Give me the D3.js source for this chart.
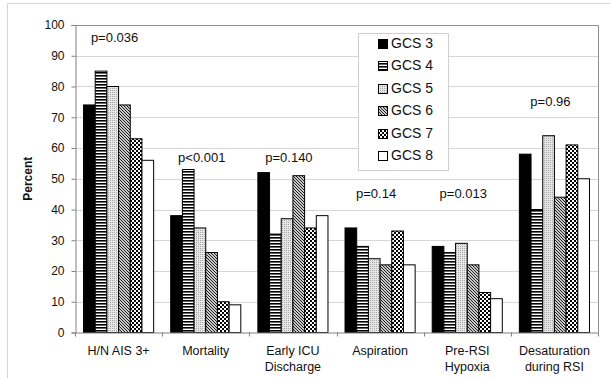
<!DOCTYPE html>
<html>
<head>
<meta charset="utf-8">
<script src="https://cdn.jsdelivr.net/npm/d3@7"></script>
<style>
  body { margin: 0; background: #fff; }
  text { font-family: "Liberation Sans", Arial, sans-serif; fill: #111; }
</style>
</head>
<body>
<div id="plot"></div>
<script>
// data
var categories = [["H/N AIS 3+"], ["Mortality"], ["Early ICU", "Discharge"], ["Aspiration"], ["Pre-RSI", "Hypoxia"], ["Desaturation", "during RSI"]];
var seriesNames = ["GCS 3", "GCS 4", "GCS 5", "GCS 6", "GCS 7", "GCS 8"];
var gcs3 = [74, 38, 52, 34, 28, 58];
var gcs4 = [85, 53, 32, 28, 26, 40];
var gcs5 = [80, 34, 37, 24, 29, 64];
var gcs6 = [74, 26, 51, 22, 22, 44];
var gcs7 = [63, 10, 34, 33, 13, 61];
var gcs8 = [56, 9, 38, 22, 11, 50];
var pLabels = ["p=0.036", "p<0.001", "p=0.140", "p=0.14", "p=0.013", "p=0.96"];
var pLevels = [94.5, 55.3, 55.3, 43.8, 43.8, 73.8];
var yTicks = [0, 10, 20, 30, 40, 50, 60, 70, 80, 90, 100];

var seriesValues = [gcs3, gcs4, gcs5, gcs6, gcs7, gcs8];
var fills = ["#000", "url(#hstripe)", "url(#dots)", "url(#diag)", "url(#checker)", "#fff"];

var width = 610,
  height = 378;
var plotLeft = 75, plotRight = 598, plotTop = 25, plotBottom = 332.5;

var svg = d3.select("#plot").append("svg")
  .attr("width", width)
  .attr("height", height);

// fill patterns
var defs = svg.append("defs");
var p = defs.append("pattern").attr("id", "hstripe").attr("patternUnits", "userSpaceOnUse")
  .attr("width", 4).attr("height", 3);
p.append("rect").attr("width", 4).attr("height", 3).attr("fill", "#fff");
p.append("rect").attr("width", 4).attr("height", 1.6).attr("fill", "#000");

p = defs.append("pattern").attr("id", "dots").attr("patternUnits", "userSpaceOnUse")
  .attr("width", 2).attr("height", 2);
p.append("rect").attr("width", 2).attr("height", 2).attr("fill", "#e6e6e6");
p.append("rect").attr("width", 1).attr("height", 1).attr("fill", "#a8a8a8");

p = defs.append("pattern").attr("id", "diag").attr("patternUnits", "userSpaceOnUse")
  .attr("width", 3).attr("height", 3);
p.append("rect").attr("width", 3).attr("height", 3).attr("fill", "#c8c8c8");
p.append("path").attr("d", "M-1,-1 L4,4 M-1,2 L1,4 M2,-1 L4,1")
  .attr("stroke", "#222").attr("stroke-width", 1);

p = defs.append("pattern").attr("id", "checker").attr("patternUnits", "userSpaceOnUse")
  .attr("width", 4).attr("height", 4);
p.append("rect").attr("width", 4).attr("height", 4).attr("fill", "#000");
p.append("rect").attr("width", 2).attr("height", 2).attr("fill", "#fff");
p.append("rect").attr("x", 2).attr("y", 2).attr("width", 2).attr("height", 2).attr("fill", "#fff");

// outer frame
svg.append("path")
  .attr("d", "M7.5," + height + " L7.5,3.5 L" + width + ",3.5")
  .attr("fill", "none").attr("stroke", "#d4d4d4");

var yScale = d3.scaleLinear().domain([0, 100]).range([plotBottom, plotTop]);
var x0 = d3.scaleBand().domain(d3.range(categories.length)).range([plotLeft, plotRight]);
var x1 = d3.scaleBand().domain(d3.range(seriesNames.length)).range([0, x0.bandwidth()])
  .paddingInner(0).paddingOuter(0.73);

// grid lines
svg.append("g").selectAll("line")
  .data(yTicks.slice(1, -1))
  .enter().append("line")
  .attr("x1", plotLeft).attr("x2", plotRight)
  .attr("y1", d => Math.round(yScale(d)) + 0.5).attr("y2", d => Math.round(yScale(d)) + 0.5)
  .attr("stroke", "#d6d6d6");

// plot border top and right
svg.append("path")
  .attr("d", "M" + plotLeft + "," + (plotTop + 0.5) + " L" + (plotRight + 0.5) + "," + (plotTop + 0.5) + " L" + (plotRight + 0.5) + "," + plotBottom)
  .attr("fill", "none").attr("stroke", "#909090");

// y axis
var yAxis = svg.append("g")
  .attr("transform", "translate(" + (plotLeft + 0.5) + ",0)")
  .call(d3.axisLeft(yScale).tickValues(yTicks).tickSize(4).tickPadding(7));
yAxis.select(".domain").attr("stroke", "#808080");
yAxis.selectAll(".tick line").attr("stroke", "#808080");
yAxis.selectAll(".tick text").attr("font-size", 12).attr("fill", "#111")
  .attr("font-family", "'Liberation Sans', Arial, sans-serif");

// bars
seriesValues.forEach(function (vals, s) {
  svg.append("g").selectAll("rect")
    .data(vals)
    .enter().append("rect")
    .attr("x", (d, i) => x0(i) + x1(s))
    .attr("y", d => yScale(d))
    .attr("width", x1.bandwidth())
    .attr("height", d => yScale(0) - yScale(d))
    .attr("fill", fills[s])
    .attr("stroke", "#000")
    .attr("stroke-width", 1);
});

// x axis with ticks between categories
svg.append("line")
  .attr("x1", plotLeft).attr("x2", plotRight)
  .attr("y1", plotBottom + 0.5).attr("y2", plotBottom + 0.5)
  .attr("stroke", "#808080");
svg.append("g").selectAll("line")
  .data(d3.range(categories.length + 1))
  .enter().append("line")
  .attr("x1", i => Math.round(plotLeft + i * x0.step()) + 0.5)
  .attr("x2", i => Math.round(plotLeft + i * x0.step()) + 0.5)
  .attr("y1", plotBottom).attr("y2", plotBottom + 4)
  .attr("stroke", "#808080");

// category labels
var cat = svg.append("g").selectAll("text")
  .data(categories)
  .enter().append("text")
  .attr("font-size", 12.5)
  .attr("text-anchor", "middle")
  .attr("x", (d, i) => x0(i) + x0.bandwidth() / 2)
  .attr("y", 355);
cat.selectAll("tspan")
  .data(d => d)
  .enter().append("tspan")
  .attr("x", function () { return this.parentNode.getAttribute("x"); })
  .attr("dy", (d, i) => i === 0 ? 0 : 16)
  .text(d => d);

// p-values
svg.append("g").selectAll("text")
  .data(pLabels)
  .enter().append("text")
  .attr("font-size", 13)
  .attr("text-anchor", "middle")
  .attr("x", (d, i) => x0(i) + x0.bandwidth() / 2 - 4)
  .attr("y", (d, i) => yScale(pLevels[i]))
  .text(d => d);

// y axis title
svg.append("text")
  .attr("transform", "translate(32," + ((plotTop + plotBottom) / 2) + ") rotate(-90)")
  .attr("text-anchor", "middle")
  .attr("font-size", 12)
  .attr("font-weight", "bold")
  .text("Percent");

// legend
var legend = svg.append("g");
legend.append("rect")
  .attr("x", 358.5).attr("y", 33.5).attr("width", 90).attr("height", 137)
  .attr("fill", "#fff").attr("stroke", "#d0d0d0");
seriesNames.forEach(function (name, s) {
  var base = 48 + s * 22.4;
  legend.append("rect")
    .attr("x", 378.5).attr("y", Math.round(base) - 8.5)
    .attr("width", 9).attr("height", 9)
    .attr("fill", fills[s]).attr("stroke", "#000");
  legend.append("text")
    .attr("x", 391).attr("y", base)
    .attr("font-size", 14)
    .text(name);
});
</script>
</body>
</html>
